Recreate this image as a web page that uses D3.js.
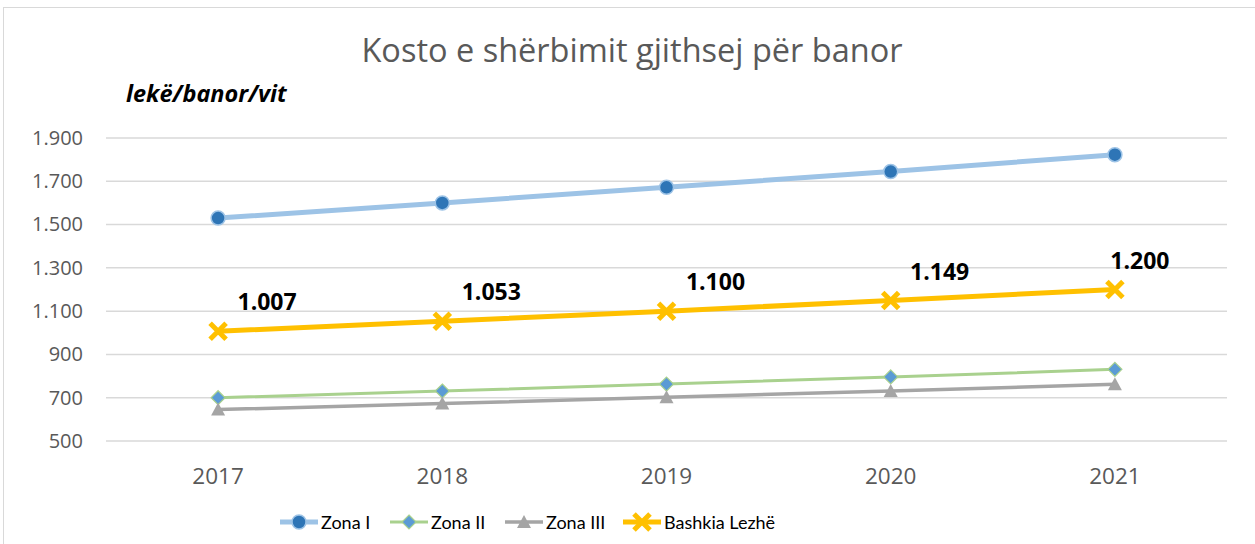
<!DOCTYPE html>
<html>
<head>
<meta charset="utf-8">
<script src="https://cdn.jsdelivr.net/npm/d3@7"></script>
<style>
  body { margin: 0; background: #fff; }
  svg { display: block; font-family: "Open Sans", "Liberation Sans", sans-serif; }
</style>
</head>
<body>
<svg width="1255" height="544"></svg>
<script>
// chart data
let years = ["2017", "2018", "2019", "2020", "2021"];
let zona1 = [1530, 1600, 1672, 1745, 1823];
let zona2 = [700, 731, 763, 796, 831];
let zona3 = [645, 673, 702, 731, 762];
let bashkia = [1007, 1053, 1100, 1149, 1200];
let yTicks = [500, 700, 900, 1100, 1300, 1500, 1700, 1900];

let svg = d3.select("svg");
let margin = { left: 106, right: 28, top: 138, bottom: 103 };
let width = +svg.attr("width") - margin.left - margin.right;
let height = +svg.attr("height") - margin.top - margin.bottom;
let font = "Open Sans, Liberation Sans, sans-serif";

// outer frame
svg.append("rect")
  .attr("x", 3.5).attr("y", 7.5)
  .attr("width", 1260).attr("height", 545)
  .attr("fill", "none")
  .attr("stroke", "#d9d9d9")
  .attr("stroke-width", 1);

let g = svg.append("g")
  .attr("transform", "translate(" + margin.left + "," + margin.top + ")");

let x = d3.scaleBand().domain(years).range([0, width]);
let y = d3.scaleLinear().domain([500, 1900]).range([height, 0]);
let xc = function(d) { return x(d) + x.bandwidth() / 2; };

let fmt = d3.formatLocale({ decimal: ",", thousands: ".", grouping: [3], currency: ["", ""] }).format(",d");

// gridlines
g.selectAll(".grid")
  .data(yTicks)
  .enter()
  .append("line")
  .attr("x1", 0).attr("x2", width)
  .attr("y1", function(d) { return y(d); })
  .attr("y2", function(d) { return y(d); })
  .attr("stroke", "#d9d9d9")
  .attr("stroke-width", 1.5);

// y axis
let yAxis = g.append("g")
  .call(d3.axisLeft(y).tickValues(yTicks).tickFormat(fmt).tickSize(0).tickPadding(23));
yAxis.select(".domain").remove();
yAxis.attr("font-family", font);
yAxis.selectAll("text")
  .attr("font-size", "20px")
  .attr("fill", "#595959");

// x axis
let xAxis = g.append("g")
  .attr("transform", "translate(0," + height + ")")
  .call(d3.axisBottom(x).tickSize(0).tickPadding(27));
xAxis.select(".domain").remove();
xAxis.attr("font-family", font);
xAxis.selectAll("text")
  .attr("font-size", "22.5px")
  .attr("fill", "#595959");

// title
svg.append("text")
  .attr("x", 632)
  .attr("y", 62)
  .attr("font-size", "32.5px")
  .attr("text-anchor", "middle")
  .attr("fill", "#595959")
  .text("Kosto e shërbimit gjithsej për banor");

svg.append("text")
  .attr("x", 126)
  .attr("y", 102)
  .attr("font-size", "23.5px")
  .attr("font-weight", "bold")
  .attr("font-style", "italic")
  .text("lekë/banor/vit");

let series = [
  { name: "Zona I", values: zona1, line: "#9dc3e6", lw: 5, marker: "circle" },
  { name: "Zona II", values: zona2, line: "#a9d18e", lw: 3, marker: "diamond" },
  { name: "Zona III", values: zona3, line: "#a5a5a5", lw: 3.5, marker: "triangle" },
  { name: "Bashkia Lezhë", values: bashkia, line: "#ffc000", lw: 5, marker: "cross" }
];

function drawMarker(sel, type) {
  if (type === "circle") {
    sel.append("circle").attr("r", 7)
      .attr("fill", "#2e75b6").attr("stroke", "#9dc3e6").attr("stroke-width", 1.5);
  } else if (type === "diamond") {
    sel.append("path").attr("d", "M0,-7L7,0L0,7L-7,0Z")
      .attr("fill", "#5b9bd5").attr("stroke", "#a9d18e").attr("stroke-width", 1.2);
  } else if (type === "triangle") {
    sel.append("path").attr("d", "M0,-7L7,6L-7,6Z")
      .attr("fill", "#a5a5a5");
  } else {
    sel.append("path").attr("d", "M-8,-8L8,8M8,-8L-8,8")
      .attr("stroke", "#ffc000").attr("stroke-width", 5).attr("fill", "none");
  }
}

let line = d3.line()
  .x(function(d, i) { return xc(years[i]); })
  .y(function(d) { return y(d); });

series.forEach(function(s) {
  g.append("path")
    .datum(s.values)
    .attr("d", line)
    .attr("fill", "none")
    .attr("stroke", s.line)
    .attr("stroke-width", s.lw);

  s.values.forEach(function(v, i) {
    let m = g.append("g")
      .attr("transform", "translate(" + xc(years[i]) + "," + y(v) + ")");
    drawMarker(m, s.marker);
  });
});

// data labels for Bashkia Lezhë
g.selectAll(".lbl")
  .data(bashkia)
  .enter()
  .append("text")
  .attr("x", function(d, i) { return xc(years[i]) + (i === years.length - 1 ? 25 : 49); })
  .attr("y", function(d) { return y(d) - 21; })
  .attr("text-anchor", "middle")
  .attr("font-size", "23px")
  .attr("font-weight", "bold")
  .text(function(d) { return fmt(d); });

// legend
let legendX = [280, 390, 505, 623];
let legend = svg.append("g").attr("transform", "translate(0,522)");
series.forEach(function(s, i) {
  let row = legend.append("g").attr("transform", "translate(" + legendX[i] + ",0)");
  row.append("line")
    .attr("x1", 0).attr("x2", 38)
    .attr("stroke", s.line)
    .attr("stroke-width", s.lw);
  let m = row.append("g").attr("transform", "translate(19,0)");
  drawMarker(m, s.marker);
  row.append("text")
    .attr("x", 41)
    .attr("y", 7)
    .attr("font-family", "Lato, Liberation Sans, sans-serif")
    .attr("font-size", "18px")
    .text(s.name);
});
</script>
</body>
</html>
